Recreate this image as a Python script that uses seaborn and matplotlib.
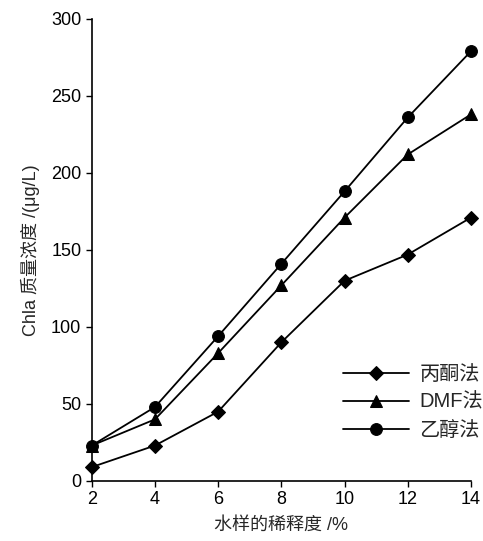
import pandas as pd
import matplotlib.pyplot as plt
import seaborn as sns

# Data
dilution = [2, 4, 6, 8, 10, 12, 14]
acetone = [9, 23, 45, 90, 130, 147, 171]
dmf = [23, 40, 83, 127, 171, 212, 238]
ethanol = [23, 48, 94, 141, 188, 236, 279]
methods = ['丙酮法', 'DMF法', '乙醇法']
markers = ['D', '^', 'o']

sns.set_style("ticks")
plt.rcParams['font.family'] = ['Liberation Sans', 'Noto Sans CJK SC', 'DejaVu Sans']

df = pd.DataFrame({
    'x': dilution * 3,
    'y': acetone + dmf + ethanol,
    'method': [m for m in methods for _ in dilution],
})

fig = plt.figure(figsize=(4.83, 5.41), dpi=100)
ax = fig.add_axes([0.190, 0.111, 0.785, 0.854])

for m, mk in zip(methods, markers):
    sub = df[df['method'] == m]
    sns.lineplot(data=sub, x='x', y='y', ax=ax, color='black', linewidth=1.3,
                 marker=mk, markersize=8.5 if mk != 'D' else 7, markeredgecolor='black',
                 markerfacecolor='black', label=m, clip_on=False)

ax.set_xlim(2, 14)
ax.set_ylim(0, 300)
ax.set_xticks(dilution)
ax.set_yticks(range(0, 301, 50))
ax.tick_params(labelsize=13, direction='out', length=4, width=1, colors='black')
ax.set_xlabel('水样的稀释度 /%', fontsize=13, labelpad=6)
ax.set_ylabel('Chla 质量浓度 /(μg/L)', fontsize=13, labelpad=8)
sns.despine(ax=ax)
for s in ['left', 'bottom']:
    ax.spines[s].set_linewidth(1.2)
    ax.spines[s].set_color('black')

ax.legend(loc='lower right', bbox_to_anchor=(1.08, 0.05), frameon=False, fontsize=14.5,
          handlelength=3.3, labelspacing=0.45, handletextpad=0.5)

plt.savefig('out.png', dpi=100)
